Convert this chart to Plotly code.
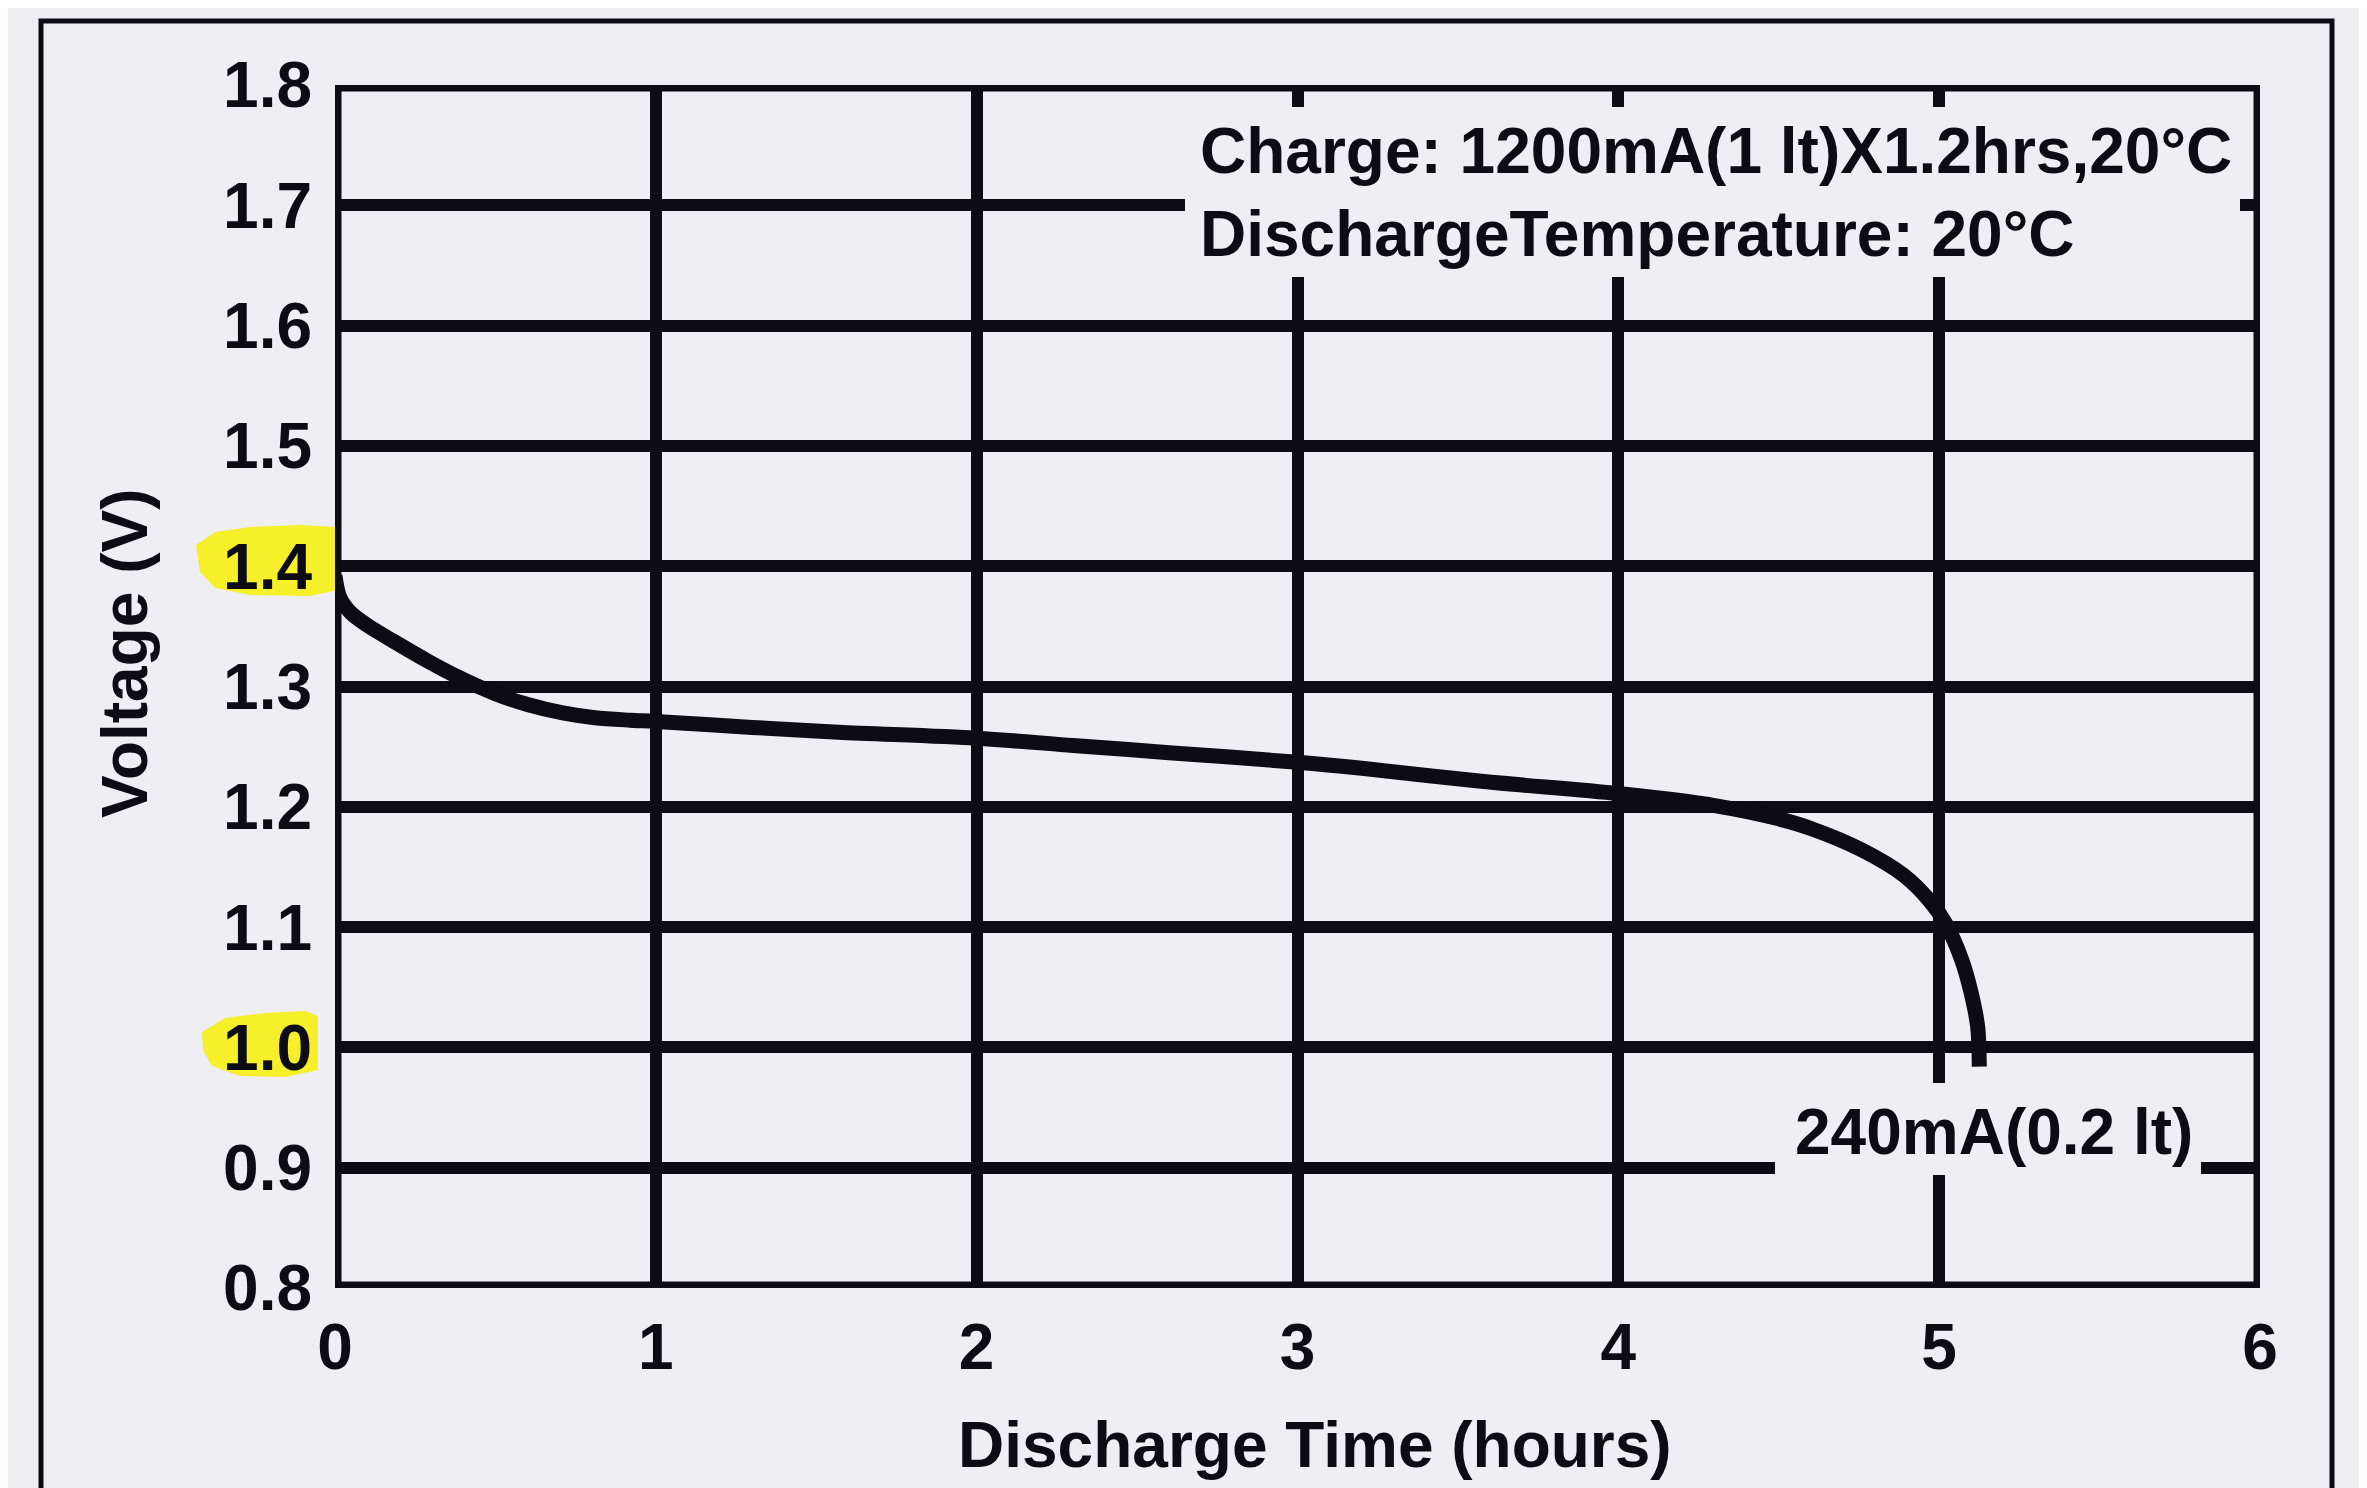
import plotly.graph_objects as go

# ---- data ----
time_h = [0.0, 0.015, 0.05, 0.10, 0.18, 0.29, 0.39, 0.50, 0.60, 0.71, 0.81, 0.92, 1.0,
          1.3, 1.57, 2.0, 2.3, 2.6, 3.0, 3.2, 3.58, 4.0, 4.3, 4.5, 4.6, 4.76, 4.89,
          4.97, 5.02, 5.07, 5.10, 5.12, 5.125]
voltage = [1.392, 1.374, 1.361, 1.351, 1.338, 1.321, 1.307, 1.294, 1.285, 1.278, 1.274,
           1.272, 1.271, 1.266, 1.262, 1.257, 1.251, 1.245, 1.237, 1.232, 1.221, 1.211,
           1.201, 1.190, 1.182, 1.164, 1.143, 1.122, 1.103, 1.073, 1.045, 1.017, 0.984]

x_ticks = [0, 1, 2, 3, 4, 5, 6]
y_ticks = [0.8, 0.9, 1.0, 1.1, 1.2, 1.3, 1.4, 1.5, 1.6, 1.7, 1.8]

x_title = "Discharge Time (hours)"
y_title = "Voltage (V)"
note_text = "Charge: 1200mA(1 lt)X1.2hrs,20°C<br>DischargeTemperature: 20°C"
curve_label = "240mA(0.2 lt)"

# ---- style / layout ----
W, H = 2367, 1488
OFF = 8  # page body margin of the html page
L, R, T, B = 335, 2260, 85, 1288  # plot area in screen pixels
PW, PH = R - L, B - T
BG = "#EFEEF3"
INK = "#0d0c14"
FONT = "Liberation Sans, Arial, Helvetica, sans-serif"
FS = 64


def px(x):
    return (x - L) / PW


def py(y):
    return (B - y) / PH


def poly(points):
    return "M " + " L ".join(f"{px(a):.5f},{py(b):.5f}" for a, b in points) + " Z"


fig = go.Figure()
fig.add_trace(go.Scatter(
    x=time_h, y=voltage, mode="lines",
    line=dict(color=INK, width=15, shape="spline", smoothing=0.9),
    showlegend=False, hoverinfo="skip",
))

shapes = []
# outer page frame
shapes.append(dict(type="rect", xref="paper", yref="paper",
                   x0=px(41), x1=px(2332), y0=py(1540), y1=py(21),
                   line=dict(color=INK, width=5), fillcolor="rgba(0,0,0,0)", layer="below"))
# yellow highlighter marks
shapes.append(dict(type="path", xref="paper", yref="paper", layer="below",
                   path=poly([(196, 545), (215, 532), (250, 527), (300, 525), (338, 527),
                              (338, 590), (310, 596), (250, 595), (215, 588), (200, 572)]),
                   fillcolor="rgba(246,240,25,0.92)", line=dict(width=0)))
shapes.append(dict(type="path", xref="paper", yref="paper", layer="below",
                   path=poly([(202, 1032), (225, 1018), (265, 1013), (305, 1011), (318, 1016),
                              (318, 1070), (285, 1077), (240, 1076), (212, 1066), (203, 1050)]),
                   fillcolor="rgba(246,240,25,0.92)", line=dict(width=0)))
# plot frame
shapes.append(dict(type="rect", xref="x", yref="y", x0=0, x1=6, y0=0.8, y1=1.8,
                   line=dict(color=INK, width=13), fillcolor="rgba(0,0,0,0)", layer="above"))
# paper-coloured patches behind texts
shapes.append(dict(type="rect", xref="paper", yref="paper",
                   x0=px(1185), x1=px(2240), y0=py(277), y1=py(107),
                   fillcolor=BG, line=dict(width=0), layer="above"))
shapes.append(dict(type="rect", xref="paper", yref="paper",
                   x0=px(1775), x1=px(2201), y0=py(1175), y1=py(1083),
                   fillcolor=BG, line=dict(width=0), layer="above"))

annotations = [
    dict(text=note_text, xref="paper", yref="paper", x=px(1198), y=py(192),
         xanchor="left", yanchor="middle", align="left", showarrow=False,
         font=dict(size=FS, color=INK, family=FONT, weight="bold")),
    dict(text=curve_label, xref="paper", yref="paper", x=px(1994), y=py(1132),
         xanchor="center", yanchor="middle", showarrow=False,
         font=dict(size=FS, color=INK, family=FONT, weight="bold")),
    dict(text=y_title, xref="paper", yref="paper", x=px(125), y=py(653),
         xanchor="center", yanchor="middle", textangle=-90, showarrow=False,
         font=dict(size=FS, color=INK, family=FONT, weight="bold")),
    dict(text=x_title, xref="paper", yref="paper", x=px(1315), y=py(1445),
         xanchor="center", yanchor="middle", showarrow=False,
         font=dict(size=FS, color=INK, family=FONT, weight="bold")),
]

fig.update_layout(
    width=W, height=H,
    margin=dict(l=L - OFF, r=W - R + OFF, t=T - OFF, b=H - B + OFF, pad=0),
    paper_bgcolor=BG, plot_bgcolor=BG,
    font=dict(family=FONT, size=FS, color=INK),
    shapes=shapes, annotations=annotations,
    showlegend=False,
)
tickfont = dict(size=FS, color=INK, family=FONT, weight="bold")
fig.update_xaxes(range=[0, 6], tickvals=x_ticks, ticktext=[str(v) for v in x_ticks],
                 showgrid=True, gridcolor=INK, gridwidth=12, zeroline=False,
                 showline=False, ticks="", ticklabelstandoff=16,
                 tickfont=tickfont, fixedrange=True)
fig.update_yaxes(range=[0.8, 1.8], tickvals=y_ticks, ticktext=[f"{v:.1f}" for v in y_ticks],
                 showgrid=True, gridcolor=INK, gridwidth=12, zeroline=False,
                 showline=False, ticks="", ticklabelstandoff=22,
                 tickfont=tickfont, fixedrange=True)

fig.write_html("out.html")
